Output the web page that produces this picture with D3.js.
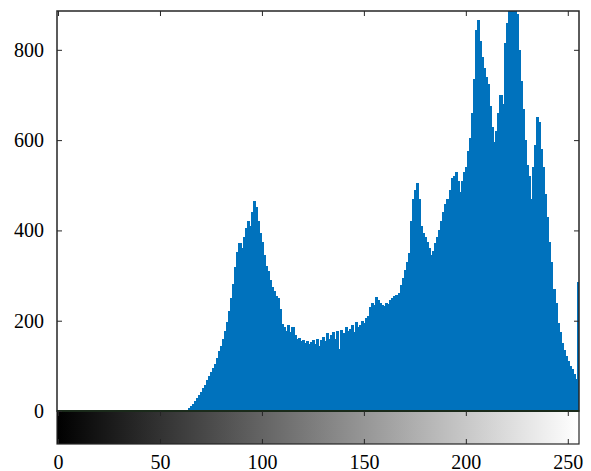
<html>
<head>
<meta charset="utf-8">
<title>Gray level histogram</title>
<script src="https://cdnjs.cloudflare.com/ajax/libs/d3/7.8.5/d3.min.js"></script>
<style>
    body {
        margin: 0;
        padding: 0;
        background: #fff;
    }
    .tick text {
        font-family: "Liberation Serif", "DejaVu Serif", serif;
        font-size: 20px;
        fill: #000;
    }
    .tick line {
        stroke: #262626;
    }
    .domain {
        display: none;
    }
</style>
</head>
<body>
<script>
    // histogram counts for gray levels 0..255
    var counts = [
        0, 0, 0, 0, 0, 0, 0, 0, 0, 0, 0, 0, 0, 0, 0, 0,
        0, 0, 0, 0, 0, 0, 0, 0, 0, 0, 0, 0, 0, 0, 0, 0,
        0, 0, 0, 0, 0, 0, 0, 0, 0, 0, 0, 0, 0, 0, 0, 0,
        0, 0, 0, 0, 0, 0, 0, 0, 0, 0, 0, 0, 1, 2, 2, 3,
        6, 10, 16, 22, 28, 35, 42, 50, 58, 68, 78, 86, 96, 105, 118, 132,
        145, 160, 178, 198, 222, 250, 282, 318, 352, 372, 360, 385, 405, 420, 410, 440,
        466, 452, 420, 395, 375, 345, 322, 310, 290, 275, 265, 255, 250, 225, 192, 185,
        178, 190, 175, 185, 168, 160, 162, 155, 158, 150, 155, 148, 152, 158, 148, 160,
        145, 158, 165, 155, 172, 160, 168, 175, 160, 178, 138, 180, 172, 185, 178, 182,
        190, 175, 198, 185, 190, 200, 195, 205, 210, 230, 240, 235, 253, 245, 240, 235,
        232, 240, 238, 245, 250, 255, 258, 262, 280, 295, 312, 330, 350, 420, 470, 490,
        505, 470, 410, 395, 385, 375, 362, 345, 355, 372, 385, 400, 420, 440, 458, 470,
        490, 515, 520, 530, 510, 485, 510, 530, 540, 575, 605, 660, 735, 845, 866, 820,
        785, 760, 740, 725, 675, 630, 595, 620, 660, 700, 680, 815, 860, 886, 886, 886,
        886, 880, 800, 730, 670, 600, 545, 520, 470, 540, 590, 652, 640, 580, 540, 480,
        430, 375, 330, 270, 240, 195, 175, 150, 135, 122, 110, 100, 92, 82, 70, 285
    ];
    var xTicks = [0, 50, 100, 150, 200, 250];
    var yTicks = [0, 200, 400, 600, 800];
    var yMax = 886;

    var w = 591, h = 471;
    var pLeft = 57, pRight = 579, pTop = 11, pBase = 411, barBottom = 444;

    var x = d3.scaleLinear().domain([-0.5, 255.5]).range([pLeft, pRight]);
    var y = d3.scaleLinear().domain([0, yMax]).range([pBase, pTop]);

    var svg = d3.select("body").append("svg")
        .attr("width", w)
        .attr("height", h);

    var defs = svg.append("defs");
    defs.append("clipPath").attr("id", "plotclip")
        .append("rect")
        .attr("x", pLeft).attr("y", pTop)
        .attr("width", pRight - pLeft).attr("height", pBase - pTop);

    var grad = defs.append("linearGradient").attr("id", "gray")
        .attr("x1", "0%").attr("x2", "100%").attr("y1", "0%").attr("y2", "0%");
    grad.append("stop").attr("offset", "0%").attr("stop-color", "#000");
    grad.append("stop").attr("offset", "100%").attr("stop-color", "#fff");

    // bars (touching, no gaps)
    svg.append("g")
        .attr("clip-path", "url(#plotclip)")
        .attr("shape-rendering", "crispEdges")
        .selectAll("rect")
        .data(counts)
        .enter().append("rect")
        .attr("x", function(d, i) { return x(i - 0.5); })
        .attr("width", x(1) - x(0) + 1)
        .attr("y", function(d) { return y(d); })
        .attr("height", function(d) { return pBase - y(d); })
        .attr("fill", "#0072BD");

    // gray bar under the axis
    svg.append("rect")
        .attr("x", pLeft).attr("y", pBase)
        .attr("width", pRight - pLeft).attr("height", barBottom - pBase)
        .attr("fill", "url(#gray)")
        .attr("stroke", "#262626")
        .attr("stroke-width", 1.2);

    // plot box
    svg.append("rect")
        .attr("x", pLeft).attr("y", pTop)
        .attr("width", pRight - pLeft).attr("height", pBase - pTop)
        .attr("fill", "none")
        .attr("stroke", "#262626")
        .attr("stroke-width", 1.5);
    svg.append("line")
        .attr("x1", pLeft).attr("x2", pRight)
        .attr("y1", pBase).attr("y2", pBase)
        .attr("stroke", "#1a2a1a")
        .attr("stroke-width", 2);

    // y axis, ticks inward
    svg.append("g")
        .attr("transform", "translate(" + pLeft + ",0)")
        .call(d3.axisLeft(y).tickValues(yTicks).tickSizeInner(-5).tickSizeOuter(0).tickPadding(13));
    svg.append("g")
        .attr("transform", "translate(" + pRight + ",0)")
        .call(d3.axisRight(y).tickValues(yTicks.slice(1)).tickSizeInner(-5).tickSizeOuter(0).tickFormat(""));

    // top ticks
    svg.append("g")
        .attr("transform", "translate(0," + pTop + ")")
        .call(d3.axisTop(x).tickValues(xTicks).tickSizeInner(-5).tickSizeOuter(0).tickFormat(""));

    // ticks on the gray bar and labels
    svg.append("g")
        .attr("transform", "translate(0," + pBase + ")")
        .call(d3.axisTop(x).tickValues(xTicks).tickSizeInner(-5).tickSizeOuter(0).tickFormat(""));
    svg.append("g")
        .attr("transform", "translate(0," + barBottom + ")")
        .call(d3.axisBottom(x).tickValues(xTicks).tickSizeInner(-5).tickSizeOuter(0).tickPadding(11));
</script>
</body>
</html>
